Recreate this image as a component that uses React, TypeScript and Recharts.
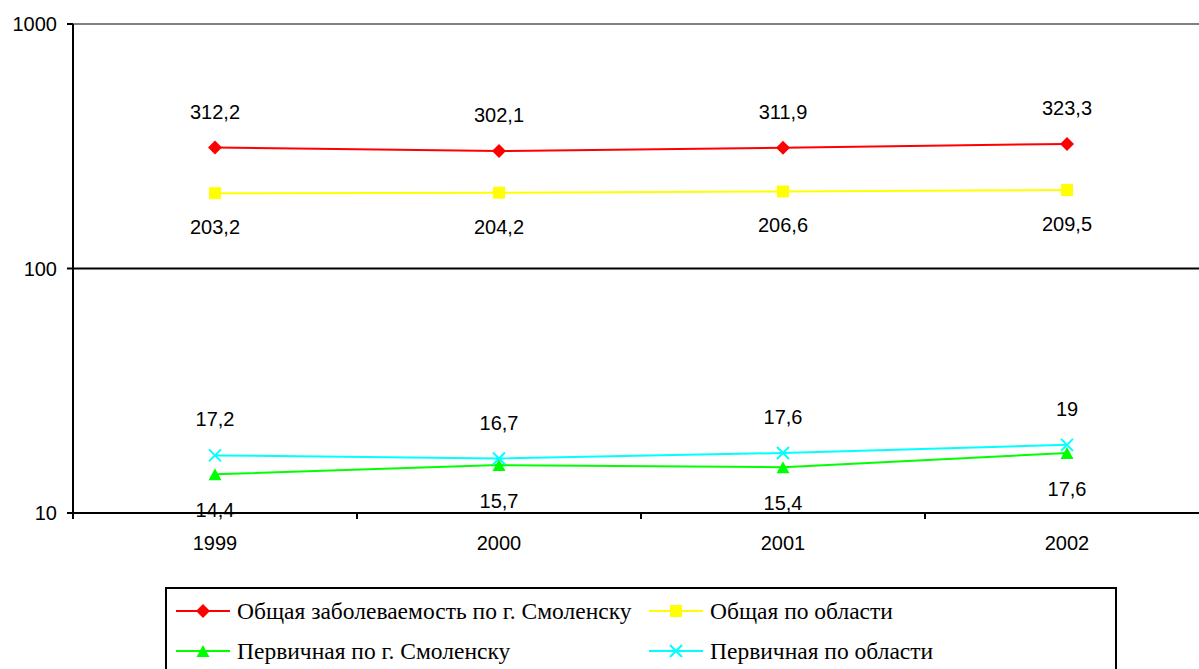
import React from 'react';
import { LineChart, Line, XAxis, YAxis, CartesianGrid, ReferenceLine, Legend } from 'recharts';

const years = ['1999', '2000', '2001', '2002'];
const cityTotal = [312.2, 302.1, 311.9, 323.3];
const regionTotal = [203.2, 204.2, 206.6, 209.5];
const cityPrimary = [14.4, 15.7, 15.4, 17.6];
const regionPrimary = [17.2, 16.7, 17.6, 19];
const yTicks = [10, 100, 1000];

const seriesNames = {
  cityTotal: 'Общая заболеваемость по г. Смоленску',
  regionTotal: 'Общая по области',
  cityPrimary: 'Первичная по г. Смоленску',
  regionPrimary: 'Первичная по области',
};

const data = years.map((y, i) => ({
  year: y,
  cityTotal: cityTotal[i],
  regionTotal: regionTotal[i],
  cityPrimary: cityPrimary[i],
  regionPrimary: regionPrimary[i],
}));

const RED = '#FF0000';
const YELLOW = '#FFFF00';
const GREEN = '#00FF00';
const CYAN = '#00FFFF';
const SANS = '"Liberation Sans", Arial, sans-serif';
const SERIF = '"Liberation Serif", "Times New Roman", serif';

const fmt = (v: number) => String(v).replace('.', ',');

const Diamond = (p: any) => {
  const { cx, cy } = p;
  if (cx == null || cy == null) return null;
  return <path d={`M${cx},${cy - 7}L${cx + 7},${cy}L${cx},${cy + 7}L${cx - 7},${cy}Z`} fill={RED} />;
};
const Square = (p: any) => {
  const { cx, cy } = p;
  if (cx == null || cy == null) return null;
  return <rect x={cx - 6} y={cy - 6} width={12} height={12} fill={YELLOW} />;
};
const Triangle = (p: any) => {
  const { cx, cy } = p;
  if (cx == null || cy == null) return null;
  return <path d={`M${cx},${cy - 6}L${cx + 6.5},${cy + 6}L${cx - 6.5},${cy + 6}Z`} fill={GREEN} />;
};
const Cross = (p: any) => {
  const { cx, cy } = p;
  if (cx == null || cy == null) return null;
  return (
    <path d={`M${cx - 6},${cy - 6}L${cx + 6},${cy + 6}M${cx + 6},${cy - 6}L${cx - 6},${cy + 6}`} stroke={CYAN} strokeWidth={2} fill="none" />
  );
};

const makeLabel = (dy: number) => (p: any) => {
  const { x, y, value } = p;
  return (
    <text x={x} y={y + dy} textAnchor="middle" fontFamily={SANS} fontSize={20} fill="#000">
      {fmt(value)}
    </text>
  );
};

const XTick = (p: any) => {
  const { x, y, payload } = p;
  const off = payload.offset || 0;
  return (
    <g>
      <line x1={x - off} x2={x - off} y1={513} y2={519} stroke="#000" strokeWidth={2} />
      <line x1={x + off} x2={x + off} y1={513} y2={519} stroke="#000" strokeWidth={2} />
      <text x={x} y={550} textAnchor="middle" fontFamily={SANS} fontSize={20} fill="#000">
        {payload.value}
      </text>
    </g>
  );
};

const legendItems = [
  { key: 'cityTotal', color: RED, Marker: Diamond, x: 176, row: 0 },
  { key: 'regionTotal', color: YELLOW, Marker: Square, x: 649, row: 0 },
  { key: 'cityPrimary', color: GREEN, Marker: Triangle, x: 176, row: 1 },
  { key: 'regionPrimary', color: CYAN, Marker: Cross, x: 649, row: 1 },
];

const LegendContent = () => (
  <svg width={1199} height={100} style={{ display: 'block' }}>
    <rect x={166} y={1} width={950} height={120} fill="#fff" stroke="#000" strokeWidth={2} />
    {legendItems.map((it) => {
      const cy = 24 + it.row * 40;
      const M = it.Marker;
      return (
        <g key={it.key}>
          <line x1={it.x} x2={it.x + 54} y1={cy} y2={cy} stroke={it.color} strokeWidth={2} />
          <M cx={it.x + 27} cy={cy} />
          <text x={it.x + 61} y={cy + 8} fontFamily={SERIF} fontSize={23.5} fill="#000">
            {(seriesNames as any)[it.key]}
          </text>
        </g>
      );
    })}
  </svg>
);

export default function App() {
  return (
    <div style={{ position: 'absolute', left: 0, top: 0, width: 1199, height: 669, overflow: 'hidden', background: '#fff' }}>
      <LineChart width={1215} height={669} data={data} margin={{ top: 24, right: 6, left: 0, bottom: 16 }}>
        <CartesianGrid vertical={false} stroke="#000" strokeWidth={2} strokeDasharray="" />
        <XAxis
          dataKey="year"
          scale="band"
          height={40}
          axisLine={{ stroke: '#000', strokeWidth: 2 }}
          tickLine={false}
          tick={<XTick />}
          interval={0}
        />
        <YAxis
          scale="log"
          domain={[10, 1000]}
          ticks={yTicks}
          allowDataOverflow
          width={73}
          axisLine={{ stroke: '#000', strokeWidth: 2 }}
          tickLine={{ stroke: '#000', strokeWidth: 2 }}
          tickSize={6}
          tickMargin={10}
          tick={{ fontFamily: SANS, fontSize: 20, fill: '#000' }}
        />
        <ReferenceLine y={1000} stroke="#808080" strokeWidth={2} />
        <Line dataKey="cityTotal" name={seriesNames.cityTotal} stroke={RED} strokeWidth={2} dot={<Diamond />} activeDot={false} isAnimationActive={false} label={makeLabel(-29)} />
        <Line dataKey="regionTotal" name={seriesNames.regionTotal} stroke={YELLOW} strokeWidth={2} dot={<Square />} activeDot={false} isAnimationActive={false} label={makeLabel(41)} />
        <Line dataKey="cityPrimary" name={seriesNames.cityPrimary} stroke={GREEN} strokeWidth={2} dot={<Triangle />} activeDot={false} isAnimationActive={false} label={makeLabel(43)} />
        <Line dataKey="regionPrimary" name={seriesNames.regionPrimary} stroke={CYAN} strokeWidth={2} dot={<Cross />} activeDot={false} isAnimationActive={false} label={makeLabel(-29)} />
        <Legend content={<LegendContent />} wrapperStyle={{ position: 'absolute', left: 0, top: 587, width: 1199, height: 100 }} />
      </LineChart>
    </div>
  );
}
